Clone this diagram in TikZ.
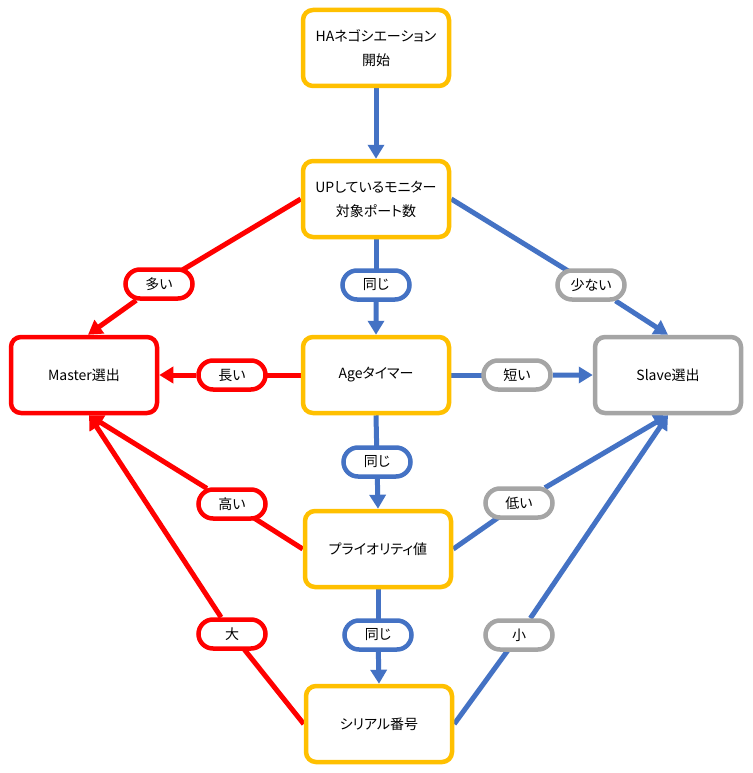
\documentclass[tikz,border=0pt]{standalone}
\usepackage{fontspec}
\setmainfont[RawFeature=+palt]{Noto Sans CJK JP}
\usetikzlibrary{arrows.meta,shapes.misc,backgrounds,calc}
\definecolor{cyel}{HTML}{FFC000}
\definecolor{cred}{HTML}{FF0000}
\definecolor{cblue}{HTML}{4472C4}
\definecolor{cgray}{HTML}{A5A5A5}
\tikzset{
  box/.style={draw=#1, line width=4.5pt, rounded corners=10pt, fill=white,
    minimum width=146pt, minimum height=76pt, align=center, inner sep=0pt,
    font=\fontsize{14}{24}\selectfont, text=black},
  pill/.style={draw=#1, rounded rectangle, line width=4.5pt, fill=white,
    minimum width=67pt, minimum height=29pt, inner sep=0pt,
    font=\fontsize{14}{16}\selectfont, text=black},
  ln/.style={draw=#1, line width=5pt},
  arr/.style={draw=#1, line width=5pt, -{Triangle[length=14pt,width=16pt]}},
}
\begin{document}
\begin{tikzpicture}[x=1pt,y=-1pt]
\useasboundingbox (0,0) rectangle (752,773);
% main boxes
\node[box=cyel] (ha) at (376,48) {HAネゴシエーション\\開始};
\node[box=cyel] (up) at (376,199) {UPしているモニター\\対象ポート数};
\node[box=cyel] (age) at (376,375) {Ageタイマー};
\node[box=cyel] (pri) at (378,549) {プライオリティ値};
\node[box=cyel] (ser) at (379,724) {シリアル番号};
\node[box=cred] (master) at (84,375) {Master選出};
\node[box=cgray] (slave) at (668,375) {Slave選出};
% labels
\node[pill=cred] (l1) at (159,284) {多い};
\node[pill=cblue] (s1) at (376,285) {同じ};
\node[pill=cgray] (r1) at (591,285) {少ない};
\node[pill=cred] (l2) at (232,375) {長い};
\node[pill=cgray] (r2) at (517,375) {短い};
\node[pill=cblue] (s2) at (377,462) {同じ};
\node[pill=cred] (l3) at (232,504) {高い};
\node[pill=cgray] (r3) at (519,503) {低い};
\node[pill=cblue] (s3) at (378,635) {同じ};
\node[pill=cred] (l4) at (232,634) {大};
\node[pill=cgray] (r4) at (519,635) {小};
\coordinate (mtop) at ($(master.north)+(4,0)$);
\coordinate (mbot) at ($(master.south)+(5,0)$);
\begin{scope}[on background layer]
\fill[white] (0,0) rectangle (752,773);
\draw[arr=cblue] (ha.south) -- (up.north);
% UP
\draw[ln=cred] (up.west) -- (l1.center);
\draw[arr=cred] (l1) -- (mtop);
\draw[ln=cblue] (up.south) -- (s1.center);
\draw[arr=cblue] (s1) -- (age.north);
\draw[ln=cblue] (up.east) -- (r1.center);
\draw[arr=cblue] (r1) -- (slave.north);
% Age
\draw[ln=cred] (age.west) -- (l2.center);
\draw[arr=cred] (l2) -- (master.east);
\draw[ln=cblue] (age.east) -- (r2.center);
\draw[arr=cblue] (r2) -- (slave.west);
\draw[ln=cblue] (age.south) -- (s2.center);
\draw[arr=cblue] (s2) -- (pri.north);
% Priority
\draw[ln=cred] (pri.west) -- (l3.center);
\draw[arr=cred] (l3) -- (mbot);
\draw[ln=cblue] (pri.east) -- (r3.center);
\draw[arr=cblue] (r3) -- (slave.south);
\draw[ln=cblue] (pri.south) -- (s3.center);
\draw[arr=cblue] (s3) -- (ser.north);
% Serial
\draw[ln=cred] (ser.west) -- (l4.center);
\draw[arr=cred] (l4) -- (mbot);
\draw[ln=cblue] (ser.east) -- (r4.center);
\draw[arr=cblue] (r4) -- (slave.south);
\end{scope}
\end{tikzpicture}
\end{document}
